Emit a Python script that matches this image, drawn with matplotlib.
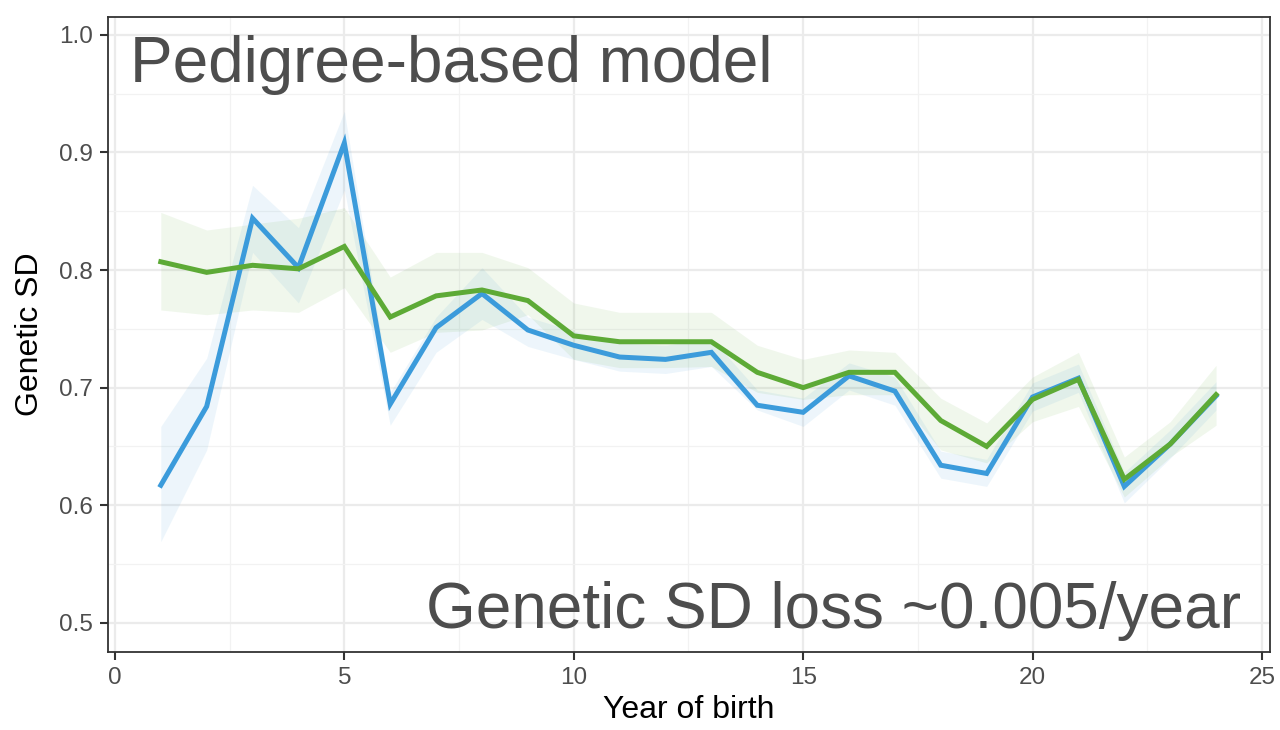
import numpy as np
import matplotlib
matplotlib.use('Agg')
import matplotlib.pyplot as plt
from matplotlib.ticker import MultipleLocator

# ---- data ----
year = np.arange(1, 25)

blue_sd = [0.617, 0.684, 0.844, 0.802, 0.908, 0.686, 0.751, 0.780, 0.749, 0.736, 0.726, 0.724,
           0.730, 0.685, 0.679, 0.710, 0.697, 0.634, 0.627, 0.692, 0.708, 0.616, 0.652, 0.693]
blue_hi = [0.667, 0.725, 0.872, 0.836, 0.935, 0.696, 0.760, 0.802, 0.760, 0.748, 0.738, 0.736,
           0.742, 0.698, 0.691, 0.721, 0.709, 0.646, 0.639, 0.704, 0.720, 0.628, 0.664, 0.705]
blue_lo = [0.569, 0.647, 0.815, 0.772, 0.868, 0.668, 0.730, 0.758, 0.735, 0.724, 0.714, 0.712,
           0.718, 0.681, 0.667, 0.698, 0.685, 0.623, 0.616, 0.680, 0.696, 0.602, 0.640, 0.681]

green_sd = [0.807, 0.798, 0.804, 0.801, 0.820, 0.760, 0.778, 0.783, 0.774, 0.744, 0.739, 0.739,
            0.739, 0.713, 0.700, 0.713, 0.713, 0.672, 0.650, 0.690, 0.707, 0.622, 0.652, 0.694]
green_hi = [0.849, 0.834, 0.839, 0.844, 0.853, 0.794, 0.815, 0.815, 0.802, 0.772, 0.764, 0.764,
            0.764, 0.736, 0.724, 0.732, 0.730, 0.691, 0.670, 0.709, 0.730, 0.641, 0.671, 0.719]
green_lo = [0.766, 0.762, 0.766, 0.764, 0.785, 0.730, 0.747, 0.749, 0.762, 0.724, 0.717, 0.717,
            0.718, 0.696, 0.690, 0.694, 0.694, 0.647, 0.636, 0.671, 0.684, 0.607, 0.641, 0.668]

blue = '#3B9BDB'
green = '#5DAA36'
txt_grey = '#4D4D4D'

plt.rcParams['font.family'] = ['Liberation Sans', 'DejaVu Sans']

fig = plt.figure(figsize=(12.8, 7.3), dpi=100)
ax = fig.add_axes([0.0844, 0.107, 0.9076, 0.870])

# confidence bands
ax.fill_between(year, blue_lo, blue_hi, color=blue, alpha=0.09, linewidth=0, zorder=2)
ax.fill_between(year, green_lo, green_hi, color=green, alpha=0.09, linewidth=0, zorder=2)

# lines
ax.plot(year, blue_sd, color=blue, linewidth=3.6, solid_joinstyle='miter', zorder=3)
ax.plot(year, green_sd, color=green, linewidth=3.6, solid_joinstyle='miter', zorder=4)

ax.set_xlim(-0.15, 25.17)
ax.set_ylim(0.4753, 1.0153)
ax.xaxis.set_major_locator(MultipleLocator(5))
ax.xaxis.set_minor_locator(MultipleLocator(2.5))
ax.yaxis.set_major_locator(MultipleLocator(0.1))
ax.yaxis.set_minor_locator(MultipleLocator(0.05))
ax.yaxis.set_major_formatter(matplotlib.ticker.FormatStrFormatter('%.1f'))

# theme_bw look
ax.grid(which='major', color='#EBEBEB', linewidth=1.6, zorder=0)
ax.grid(which='minor', color='#F2F2F2', linewidth=0.9, zorder=0)
ax.set_axisbelow(True)
for s in ax.spines.values():
    s.set_color('#333333')
    s.set_linewidth(1.3)
ax.tick_params(which='major', length=6, width=1.5, color='#333333',
               labelsize=17.5, labelcolor=txt_grey, pad=5)
ax.tick_params(which='minor', length=0)

ax.set_xlabel('Year of birth', fontsize=23, color='black', labelpad=4)
ax.set_ylabel('Genetic SD', fontsize=23, color='black', labelpad=10)

ax.text(0.019, 0.8976, 'Pedigree-based model', transform=ax.transAxes,
        fontsize=46, color=txt_grey, ha='left', va='baseline')
ax.text(0.975, 0.0378, 'Genetic SD loss ~0.005/year', transform=ax.transAxes,
        fontsize=46, color=txt_grey, ha='right', va='baseline')

fig.savefig('out.png', dpi=100)
